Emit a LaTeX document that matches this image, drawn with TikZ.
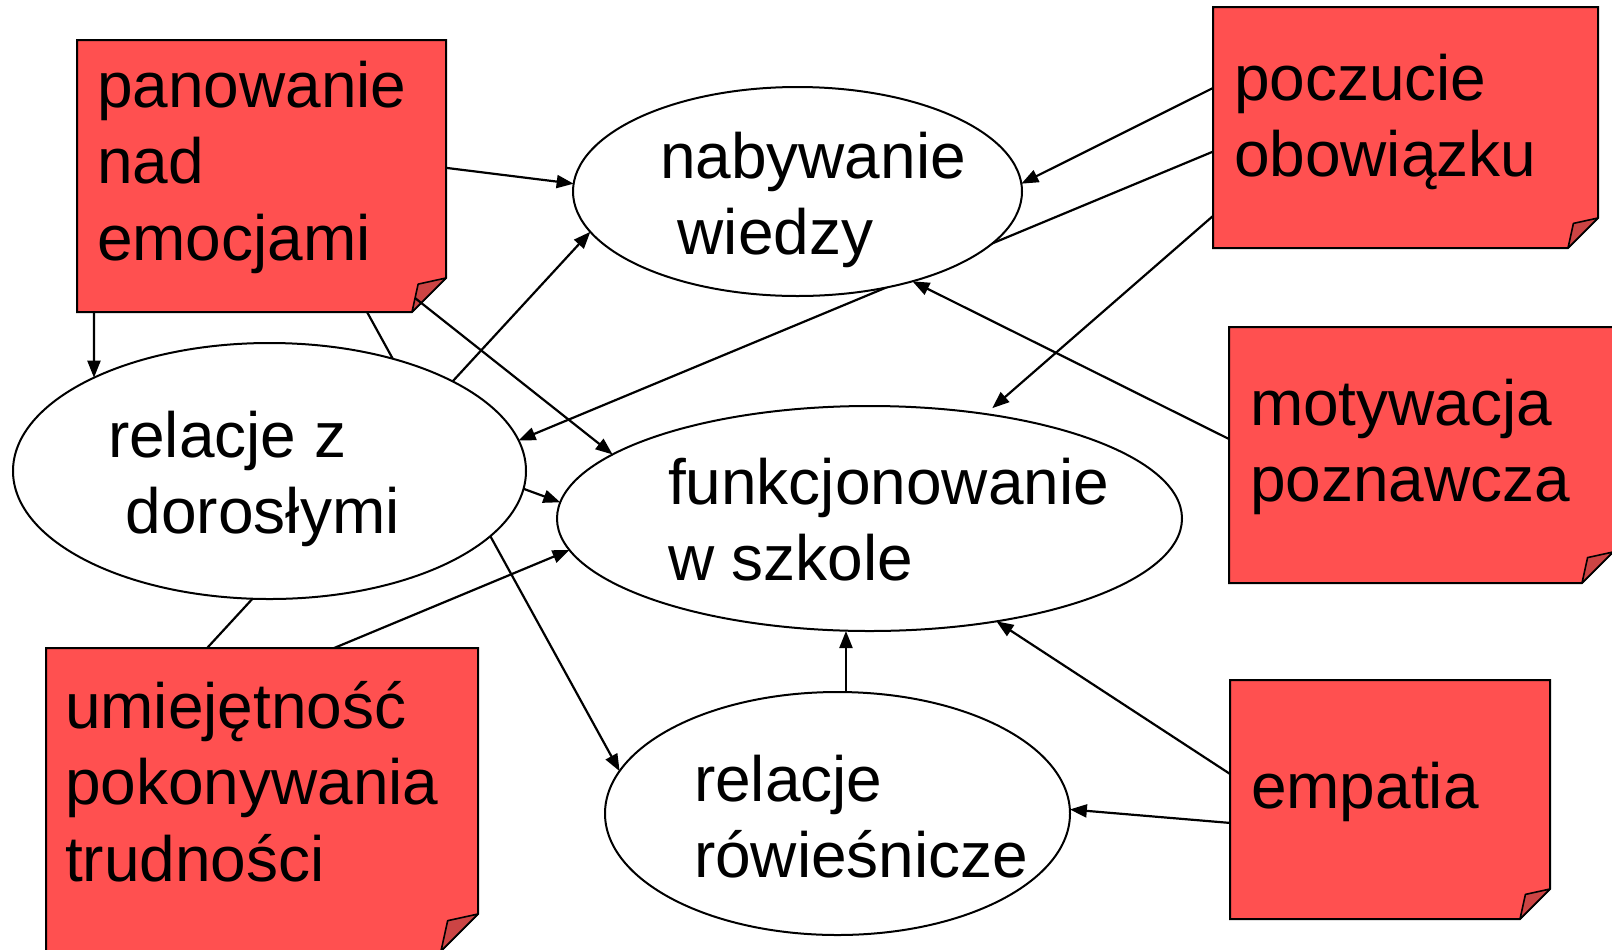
\documentclass[tikz,border=0pt]{standalone}
\usepackage{fontspec}
\setmainfont{Liberation Sans}
\usetikzlibrary{arrows.meta,calc,fit,shapes.geometric}
\pgfdeclarelayer{back}
\pgfsetlayers{back,main}
\definecolor{notered}{RGB}{255,80,80}
\definecolor{curlred}{RGB}{204,68,68}
\newcommand\stacklines[1]{\begin{tabular}[t]{@{}l@{}}#1\end{tabular}}

\begin{document}
\begin{tikzpicture}[x=0.5pt,y=-0.5pt,
  notebox/.style={rectangle,inner sep=0pt,outer sep=0pt},
  topic/.style={ellipse,draw,fill=white,line width=1pt,inner sep=0pt,outer sep=0pt},
  words/.style={anchor=base west,inner sep=0pt,outer sep=0pt,font=\fontsize{32}{38.25}\selectfont},
  link/.style={line width=1.1pt,-{Triangle[length=8.5pt,width=6.5pt]}}
]
\useasboundingbox (0,0) rectangle (1612,949);

% sticky notes (outline nodes)
\node[notebox,fit={(77,40) (446,312)}] (pan) {};
\node[notebox,fit={(1213,7) (1598,248)}] (pocz) {};
\node[notebox,fit={(1229,327) (1613,583)}] (mot) {};
\node[notebox,fit={(46,648) (478,951)}] (umi) {};
\node[notebox,fit={(1230,680) (1550,919)}] (emp) {};

% note bodies with a curled lower-right corner
\foreach \n/\f in {pan/34,pocz/30,mot/31,umi/37,emp/30}{
  \draw[line width=1pt,fill=notered,line join=miter]
    (\n.north west) -- (\n.north east) -- ($(\n.south east)+(0,-\f)$)
    -- ($(\n.south east)+(-\f,0)$) -- (\n.south west) -- cycle;
  \draw[line width=0.8pt,fill=curlred,line join=round]
    ($(\n.south east)+(0,-\f)$) -- ($(\n.south east)+(-0.82*\f,-0.82*\f)$)
    -- ($(\n.south east)+(-\f,0)$) -- cycle;
}
\coordinate (pancurl) at ($(pan.south east)+(-31,-14)$);

% topics
\node[topic,minimum width=224.5pt,minimum height=104.5pt] (nab) at (797.5,191.5) {};
\node[topic,minimum width=256.5pt,minimum height=128pt] (rel) at (269.5,471) {};
\node[topic,minimum width=312.5pt,minimum height=112.5pt] (fun) at (869.5,518.5) {};
\node[topic,minimum width=232.5pt,minimum height=121.5pt] (row) at (837.5,813.5) {};

% texts
\node[words] (pant) at (97,107) {\stacklines{panowanie\\nad\\emocjami}};
\node[words] (poczt) at (1234,100) {\stacklines{poczucie\\obowiązku}};
\node[words] (mott) at (1250,425) {\stacklines{motywacja\\poznawcza}};
\node[words] (umit) at (65,728) {\stacklines{umiejętność\\pokonywania\\trudności}};
\node[words] (empt) at (1251,808) {empatia};
\node[words] (nabt) at (660,178) {\stacklines{nabywanie\\~wiedzy}};
\node[words] (relt) at (108,457) {\stacklines{relacje z\\~dorosłymi}};
\node[words] (funt) at (668,504) {\stacklines{funkcjonowanie\\w szkole}};
\node[words] (rowt) at (694,801) {\stacklines{relacje\\rówieśnicze}};

% connectors, behind the topics
\begin{pgfonlayer}{back}
\draw[link] ($(pan.north east)!0.47!(pan.south east)$) -- (nab.178);
\draw[link] ($(pan.south west)!0.046!(pan.south east)$) -- (rel.152);
\draw[link] ($(pan.south west)!0.786!(pan.south east)$) -- (row.169);
\draw[link] (rel.-4) -- (fun.177);
\draw[link] ($(umi.north west)!0.373!(umi.north east)$) -- (nab.191);
\draw[link] ($(umi.north west)!0.667!(umi.north east)$) -- (fun.186);
\draw[link] ($(pocz.north west)!0.336!(pocz.south west)$) -- (nab.2);
\draw[link] ($(pocz.north west)!0.60!(pocz.south west)$) -- (rel.7);
\draw[link,shorten >=4.5pt] ($(pocz.north west)!0.867!(pocz.south west)$) -- (fun.42.7);
\draw[link] ($(mot.north west)!0.4375!(mot.south west)$) -- (nab.-38);
\draw[link] ($(emp.north west)!0.393!(emp.south west)$) -- (fun.-39);
\draw[link] ($(emp.north west)!0.598!(emp.south west)$) -- (row.1);
\draw[link] (row.86) -- (row.86 |- fun.south);
\end{pgfonlayer}
\draw[link] (pancurl) -- (fun.166);
\end{tikzpicture}
\end{document}
